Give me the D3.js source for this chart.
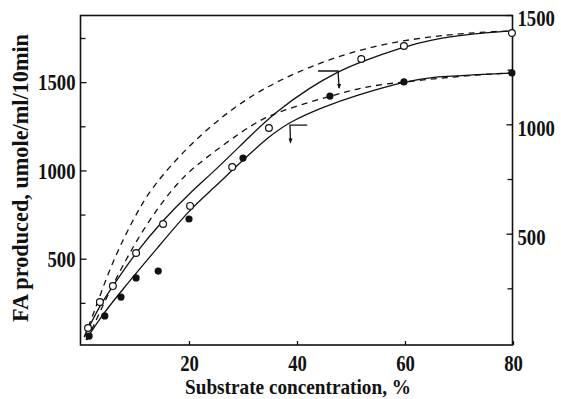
<!DOCTYPE html>
<html>
<head>
<meta charset="utf-8">
<script src="https://cdn.jsdelivr.net/npm/d3@7"></script>
<style>
  body { margin: 0; background: #fff; }
  text { font-family: "Liberation Serif", "DejaVu Serif", serif; font-weight: bold; fill: #111; }
</style>
</head>
<body>
<script>
// measured points (substrate %, FA produced)
let openX = [1.3, 3.5, 5.9, 10.2, 15.2, 20.2, 28.0, 34.8, 51.9, 59.8, 79.8];
let openY = [108, 255, 345, 532, 697, 799, 1019, 1240, 1631, 1705, 1778];
let filledX = [1.5, 4.4, 7.4, 10.2, 14.3, 20.0, 30.0, 46.1, 59.8, 79.8];
let filledY = [62, 176, 283, 391, 430, 725, 1070, 1421, 1501, 1552];

// drawn curves
let upperSolidX = [0.6, 3.5, 5.9, 10.2, 15.2, 20.0, 25.2, 31.3, 36.0, 42.4, 47.6, 51.7, 59.6, 64.6, 72.0, 79.8];
let upperSolidY = [57, 238, 345, 538, 719, 868, 1010, 1195, 1330, 1470, 1560, 1614, 1699, 1739, 1773, 1790];
let lowerSolidX = [0.9, 3.5, 7.6, 14.3, 20.2, 24.8, 28.0, 35.0, 39.0, 44.8, 51.1, 59.6, 64.6, 72.0, 79.8];
let lowerSolidY = [40, 164, 323, 566, 782, 906, 1002, 1200, 1280, 1359, 1427, 1501, 1529, 1540, 1552];
let upperDashX = [0.6, 2.6, 5.0, 8.1, 10.9, 13.3, 19.6, 28.1, 36.9, 49.3, 61.5, 73.9, 79.8];
let upperDashY = [57, 210, 419, 630, 790, 910, 1133, 1359, 1520, 1671, 1750, 1784, 1790];
let lowerDashX = [1.1, 3.5, 6.3, 11.3, 18.0, 23.3, 31.9, 36.9, 46.1, 53.0, 59.8, 72.0, 79.8];
let lowerDashY = [40, 198, 379, 663, 946, 1076, 1269, 1337, 1421, 1478, 1501, 1540, 1552];

let xTicks = [20, 40, 60, 80];
let leftTicks = [500, 1000, 1500];
let leftMinor = [250, 750, 1250, 1750];
let rightTicks = [500, 1000, 1500];
let rightMinor = [250, 750, 1250];

let W = 561, H = 399;
let svg = d3.select('body').append('svg').attr('width', W).attr('height', H);

let x = d3.scaleLinear().domain([0, 80]).range([81, 513]);
let y = d3.scaleLinear().domain([0, 1750]).range([347, 38]);
let yR = d3.scaleLinear().domain([0, 1500]).range([343, 15]);

function zip(a, b) { return a.map(function(v, i) { return [v, b[i]]; }); }

// frame
svg.append('rect').attr('x', 80.5).attr('y', 15.5).attr('width', 432).attr('height', 329.5)
  .attr('fill', 'none').attr('stroke', '#111').attr('stroke-width', 1.6);

function styleAxis(g) {
  g.select('.domain').remove();
  g.selectAll('line').attr('stroke', '#111').attr('stroke-width', 1.3);
  g.selectAll('text').attr('font-size', '24px').attr('font-family', '"Liberation Serif", serif')
    .attr('font-weight', 'bold').attr('fill', '#111');
}

let fmt = d3.format('d');
let gx = svg.append('g').attr('transform', 'translate(0,345)')
  .call(d3.axisBottom(x).tickValues(xTicks).tickSize(-4).tickPadding(9).tickFormat(fmt));
styleAxis(gx);

let gl = svg.append('g').attr('transform', 'translate(80.5,0)')
  .call(d3.axisLeft(y).tickValues(leftTicks).tickSize(-6).tickPadding(5).tickFormat(fmt));
styleAxis(gl);
let glm = svg.append('g').attr('transform', 'translate(80.5,0)')
  .call(d3.axisLeft(y).tickValues(leftMinor).tickSize(-5).tickFormat(''));
styleAxis(glm);

let gr = svg.append('g').attr('transform', 'translate(512.5,0)')
  .call(d3.axisRight(yR).tickValues(rightTicks).tickSize(-6).tickPadding(5).tickFormat(fmt));
styleAxis(gr);
gr.selectAll('text').attr('dy', '0.45em');
let grm = svg.append('g').attr('transform', 'translate(512.5,0)')
  .call(d3.axisRight(yR).tickValues(rightMinor).tickSize(-5).tickFormat(''));
styleAxis(grm);

// squeeze the tick digits, like the narrow printed face
svg.selectAll('.tick text').each(function() {
  let t = d3.select(this);
  let tx = +t.attr('x') || 0, ty = +t.attr('y') || 0;
  t.attr('transform', 'translate(' + tx + ',' + ty + ') scale(0.78,1)').attr('x', 0).attr('y', 0);
});

// curves
let line = d3.line().x(function(d) { return x(d[0]); }).y(function(d) { return y(d[1]); })
  .curve(d3.curveBasis);

let curves = [
  {pts: zip(upperDashX, upperDashY), dash: '6,5'},
  {pts: zip(lowerDashX, lowerDashY), dash: '6,5'},
  {pts: zip(upperSolidX, upperSolidY), dash: null},
  {pts: zip(lowerSolidX, lowerSolidY), dash: null}
];
svg.selectAll('path.curve').data(curves).enter().append('path')
  .attr('class', 'curve')
  .attr('d', function(d) { return line(d.pts); })
  .attr('fill', 'none').attr('stroke', '#111').attr('stroke-width', 1.3)
  .attr('stroke-dasharray', function(d) { return d.dash; });

// bracket arrows
let brackets = [
  [[43.9, 1563], [47.6, 1563], [47.8, 1467]],
  [[41.9, 1257], [38.7, 1257], [38.8, 1158]]
];
svg.selectAll('path.br').data(brackets).enter().append('path')
  .attr('class', 'br')
  .attr('d', function(d) { return d3.line().x(function(p) { return x(p[0]); }).y(function(p) { return y(p[1]); })(d); })
  .attr('fill', 'none').attr('stroke', '#111').attr('stroke-width', 1.3);
svg.selectAll('path.tip').data(brackets).enter().append('path')
  .attr('class', 'tip')
  .attr('d', function(d) {
    let px = x(d[2][0]), py = y(d[2][1]);
    return 'M' + (px - 2) + ',' + (py - 4) + 'L' + px + ',' + (py + 1) + 'L' + (px + 2) + ',' + (py - 4) + 'Z';
  })
  .attr('fill', '#111');

// points
svg.selectAll('circle.filled').data(zip(filledX, filledY)).enter().append('circle')
  .attr('class', 'filled')
  .attr('cx', function(d) { return x(d[0]); }).attr('cy', function(d) { return y(d[1]); })
  .attr('r', 3.6).attr('fill', '#111');
svg.selectAll('circle.open').data(zip(openX, openY)).enter().append('circle')
  .attr('class', 'open')
  .attr('cx', function(d) { return x(d[0]); }).attr('cy', function(d) { return y(d[1]); })
  .attr('r', 3.4).attr('fill', '#fff').attr('stroke', '#111').attr('stroke-width', 1.2);

// axis titles
svg.append('text').attr('x', 298).attr('y', 394).attr('text-anchor', 'middle')
  .attr('font-size', '22px').attr('textLength', 226).attr('lengthAdjust', 'spacingAndGlyphs')
  .text('Substrate concentration, %');
svg.append('text').attr('transform', 'translate(28,178) rotate(-90)').attr('text-anchor', 'middle')
  .attr('font-size', '23px').attr('textLength', 288).attr('lengthAdjust', 'spacingAndGlyphs')
  .text('FA produced, umole/ml/10min');
</script>
</body>
</html>
